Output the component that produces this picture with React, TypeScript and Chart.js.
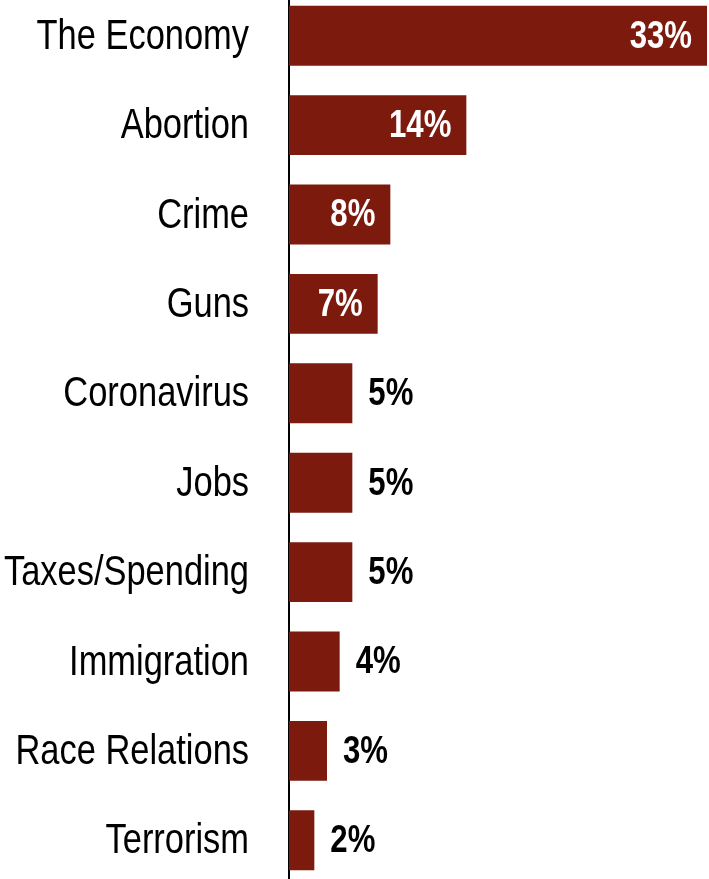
import React, { useEffect, useRef } from "react";
import { Chart, registerables } from "chart.js";

Chart.register(...registerables);

const categories = [
  "The Economy",
  "Abortion",
  "Crime",
  "Guns",
  "Coronavirus",
  "Jobs",
  "Taxes/Spending",
  "Immigration",
  "Race Relations",
  "Terrorism",
];
const values = [33, 14, 8, 7, 5, 5, 5, 4, 3, 2];
const insideThreshold = 7;

const FONT = "'Liberation Sans', Arial, sans-serif";
const NARROW = 0.82;

const narrowText = (ctx: any, text: string, x: number, y: number, align: string) => {
  ctx.save();
  ctx.translate(x, y);
  ctx.scale(NARROW, 1);
  ctx.textAlign = align;
  ctx.fillText(text, 0, 0);
  ctx.restore();
};

const categoryLabels = {
  id: "categoryLabels",
  afterDraw(chart: any) {
    const ctx = chart.ctx;
    const yScale = chart.scales.y;
    ctx.save();
    ctx.font = `42px ${FONT}`;
    ctx.fillStyle = "#000000";
    ctx.textBaseline = "middle";
    chart.data.labels.forEach((label: string, i: number) => {
      const y = yScale.getPixelForValue(i);
      narrowText(ctx, label, yScale.right - 40, y + 1.5, "right");
    });
    ctx.restore();
  },
};

const valueLabels = {
  id: "valueLabels",
  afterDatasetsDraw(chart: any) {
    const ctx = chart.ctx;
    const meta = chart.getDatasetMeta(0);
    ctx.save();
    ctx.font = `bold 38px ${FONT}`;
    ctx.textBaseline = "middle";
    meta.data.forEach((bar: any, i: number) => {
      const v = values[i];
      const text = `${v}%`;
      if (v >= insideThreshold) {
        ctx.fillStyle = "#ffffff";
        narrowText(ctx, text, bar.x - 15, bar.y + 1.5, "right");
      } else {
        ctx.fillStyle = "#000000";
        narrowText(ctx, text, bar.x + 16, bar.y + 1.5, "left");
      }
    });
    ctx.restore();
  },
};

export default function App() {
  const ref = useRef<HTMLCanvasElement>(null);
  useEffect(() => {
    document.body.style.margin = "0";
    const chart = new Chart(ref.current!, {
      type: "bar",
      data: {
        labels: categories,
        datasets: [
          {
            data: values,
            backgroundColor: "#7B1A0D",
            borderWidth: 0,
            categoryPercentage: 1,
            barPercentage: 0.67,
          },
        ],
      },
      options: {
        indexAxis: "y",
        animation: false,
        responsive: false,
        maintainAspectRatio: false,
        layout: { padding: { left: 0, right: 2, top: 0, bottom: 0 } },
        plugins: {
          legend: { display: false },
          tooltip: { enabled: false },
        },
        scales: {
          x: {
            display: false,
            min: 0,
            max: 33,
          },
          y: {
            grid: { display: false, drawTicks: false },
            border: { display: true, color: "#000000", width: 2 },
            ticks: { display: false },
            afterFit: (scale: any) => {
              scale.width = 289;
              scale.paddingTop = 0;
              scale.paddingBottom = 0;
            },
          },
        },
      },
      plugins: [valueLabels, categoryLabels],
    });
    return () => chart.destroy();
  }, []);
  return (
    <div style={{ width: 709, height: 879, overflow: "hidden", position: "relative" }}>
      <canvas
        ref={ref}
        width={709}
        height={894}
        style={{ position: "absolute", left: 0, top: -9, width: 709, height: 894 }}
      />
    </div>
  );
}
